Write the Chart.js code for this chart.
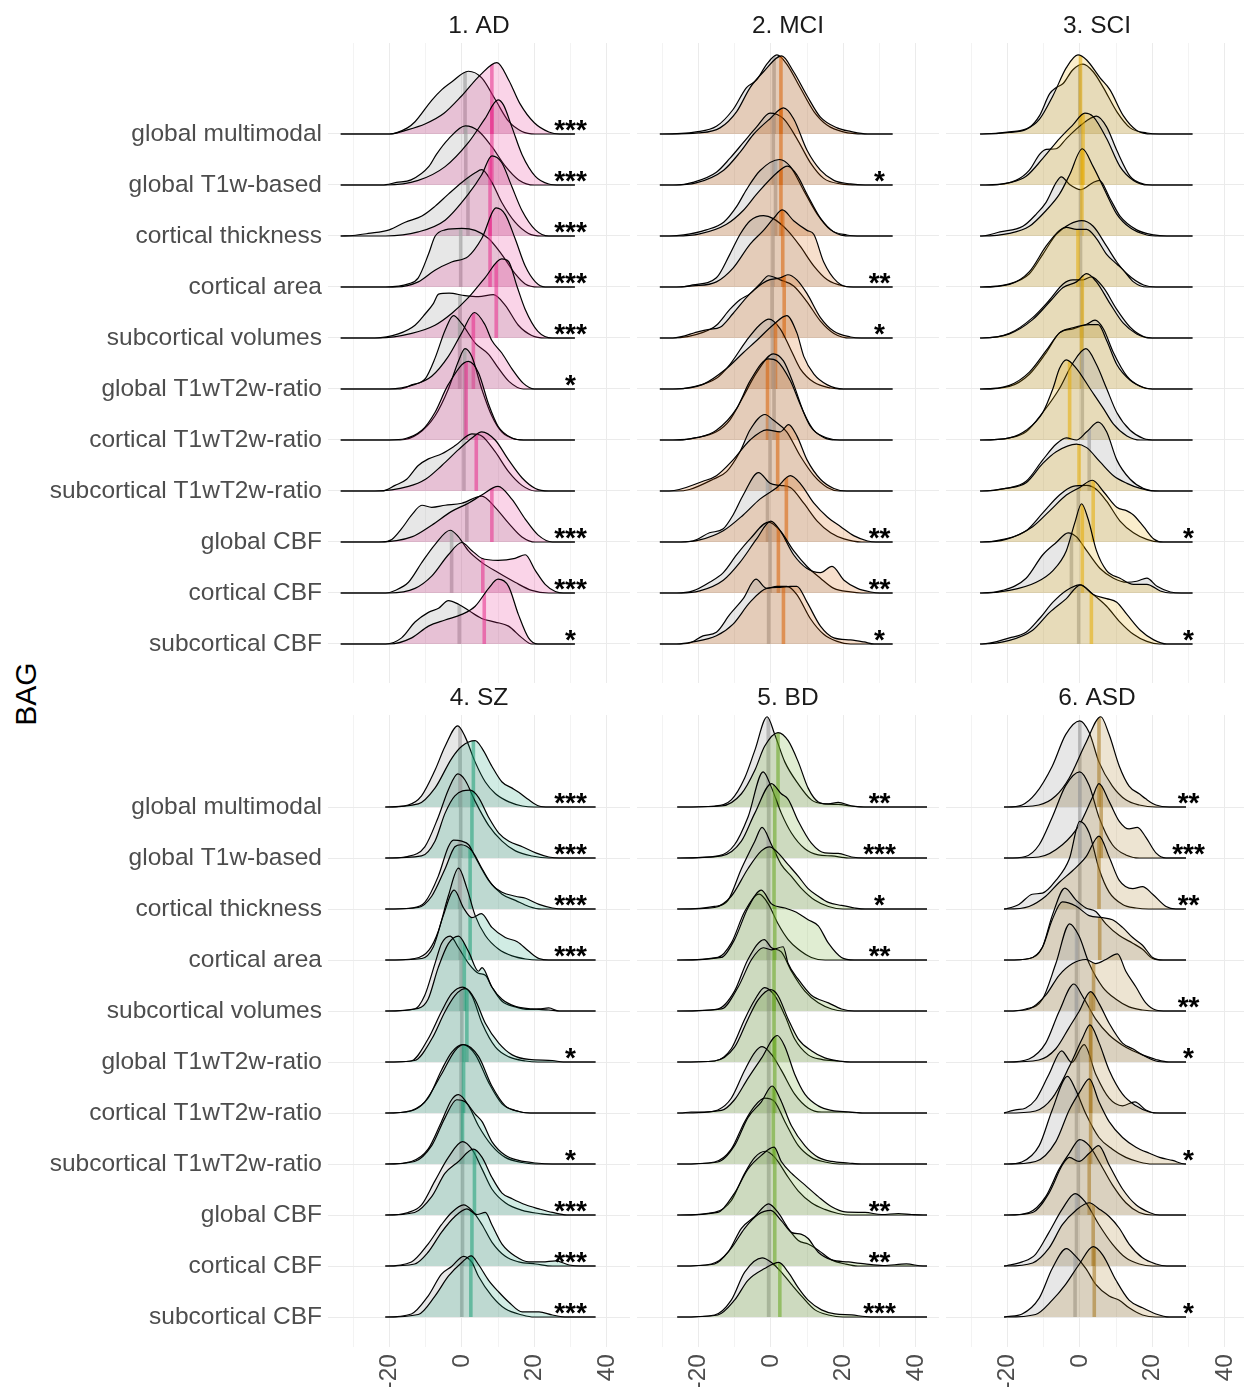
<!DOCTYPE html>
<html>
<head>
<meta charset="utf-8">
<title>BAG ridgelines</title>
<script src="https://cdn.jsdelivr.net/npm/chart.js@4.4.1/dist/chart.umd.min.js"></script>
<style>
html, body { margin: 0; padding: 0; background: #fff; }
body { width: 1244px; height: 1387px; overflow: hidden; position: relative; font-family: "Liberation Sans", Arial, sans-serif; }
canvas { position: absolute; }
#ylab { position: absolute; left: 26px; top: 694px; transform: translate(-50%, -50%) rotate(-90deg); font-size: 30px; color: #000; white-space: nowrap; }
</style>
</head>
<body>
<div id="ylab">BAG</div>
<canvas id="p0"></canvas>
<canvas id="p1"></canvas>
<canvas id="p2"></canvas>
<canvas id="p3"></canvas>
<canvas id="p4"></canvas>
<canvas id="p5"></canvas>
<script>
// ---------- labels / ticks ----------
const rowLabels = ['global multimodal', 'global T1w-based', 'cortical thickness', 'cortical area',
  'subcortical volumes', 'global T1wT2w-ratio', 'cortical T1wT2w-ratio', 'subcortical T1wT2w-ratio',
  'global CBF', 'cortical CBF', 'subcortical CBF'];
const panelTitles = ['1. AD', '2. MCI', '3. SCI', '4. SZ', '5. BD', '6. ASD'];
const panelColors = ['#E7298A', '#D95F02', '#E6AB02', '#1B9E77', '#66A61E', '#A6761D'];
const xTicks = [-30, -20, -10, 0, 10, 20, 30, 40];
const xLabelTicks = [-20, 0, 20, 40];
const starX = 30;

// ---------- density outlines: [x, height, x, height, ...] per row (top row first) ----------
// ----- 1. AD -----
const adRange = [-33.4, 31.2];
const adControl = [
  [-20,0, -15,0.12, -12.9,0.24, -8.3,0.66, -5.5,0.87, -2.8,1.02, 1.8,1.23, 5.5,1.1, 9.2,0.68, 12.9,0.25, 16.6,0.05, 20.3,0],
  [-22,0, -18,0.05, -14,0.1, -9,0.37, -7,0.6, -3.7,0.9, 1,1.16, 4.6,1.06, 8.3,0.75, 12,0.37, 15.7,0.1, 20,0],
  [-30,0.01, -25.8,0.05, -20,0.12, -15.6,0.27, -11,0.39, -7.4,0.58, -3.7,0.82, 0,1.05, 3.7,1.24, 5.5,1.3, 8.3,1.05, 11,0.66, 14.7,0.27, 18.4,0.05, 22,0],
  [-21,0, -14.7,0.06, -12,0.18, -9.2,0.64, -7.4,0.99, -4.6,1.12, 0,1.15, 3.7,1.11, 7.4,0.95, 11,0.64, 14.7,0.26, 17.5,0.06, 21,0],
  [-24,0, -17.5,0.08, -12.9,0.25, -10,0.48, -7.8,0.68, -6.4,0.86, -3.5,0.88, 0.9,0.83, 4.6,0.81, 8.7,0.85, 12,0.64, 15.6,0.25, 19.3,0.05, 23,0],
  [-17,0, -13.8,0.08, -10,0.21, -7.4,0.6, -4.6,1.15, -2.3,1.44, 0,1.28, 3.7,0.9, 7.4,0.68, 10,0.42, 13,0.15, 17,0],
  [-17,0, -12,0.12, -7.4,0.47, -3.7,1.0, -0.9,1.55, 0.9,1.79, 2.8,1.63, 5.5,1.0, 8.3,0.47, 11,0.16, 14.7,0.02, 18,0],
  [-22,0, -18.4,0.11, -15.2,0.23, -12,0.5, -9.2,0.63, -5.5,0.73, -1.8,0.89, 2.8,1.12, 5.5,1.08, 9.2,0.77, 12.9,0.38, 16.6,0.11, 20.3,0],
  [-22,0, -19.3,0.05, -16.6,0.26, -13.8,0.53, -11,0.72, -8.3,0.68, -4.6,0.72, 0,0.76, 5.5,0.9, 9.2,0.68, 12.9,0.37, 16.6,0.1, 20.3,0],
  [-21,0, -18.4,0.05, -14.7,0.21, -11,0.6, -7.4,0.95, -3.2,1.23, -0.9,1.1, 1.8,0.83, 5.5,0.6, 10,0.4, 14.7,0.21, 19.3,0.05, 24,0],
  [-21,0, -16.6,0.12, -12.9,0.43, -9.2,0.62, -6.4,0.7, -3.7,0.85, -0.9,0.78, 1.8,0.66, 5.5,0.5, 9.2,0.43, 12.9,0.35, 16.6,0.12, 19.3,0]
];
const adPatient = [
  [-20,0, -15,0.08, -10,0.2, -5,0.4, 0,0.75, 5,1.15, 9.7,1.4, 13,1.05, 16,0.6, 20,0.22, 24,0.04, 27,0],
  [-21,0, -12,0.09, -4.6,0.36, 1.8,0.83, 6.4,1.3, 10,1.67, 11.5,1.57, 13.8,1.14, 16.6,0.6, 20.3,0.17, 24,0.02, 27,0],
  [-21,0, -12,0.08, -4.6,0.31, 1.8,0.82, 5.5,1.2, 8.3,1.57, 11,1.44, 13.8,0.97, 16.6,0.5, 20.3,0.12, 24,0],
  [-18,0, -12,0.1, -7.4,0.33, -2.8,0.49, 1.8,0.6, 5.5,0.95, 9.5,1.55, 12,1.42, 14.7,0.95, 17.5,0.41, 20.3,0.1, 23,0],
  [-23,0, -13.8,0.09, -7.4,0.25, -2.8,0.48, 1.8,0.79, 6.4,1.18, 11,1.55, 12.9,1.5, 15.2,1.02, 17.5,0.56, 21,0.13, 25,0],
  [-20,0, -12.9,0.09, -8.3,0.25, -3.7,0.64, 0,1.1, 3.5,1.5, 6.4,1.26, 8.3,0.95, 11,0.71, 13.8,0.4, 17,0.11, 20,0],
  [-20,0, -11,0.19, -7.4,0.54, -3.7,1.09, 1.8,1.54, 4.6,1.32, 7.4,0.7, 10,0.27, 13.8,0.04, 17,0],
  [-24,0, -14.7,0.09, -10,0.23, -5.5,0.5, -0.9,0.81, 2.8,1.04, 5.5,1.16, 9.2,1.0, 12.9,0.61, 16.6,0.26, 20.3,0.05, 24,0],
  [-23,0, -13.8,0.1, -8.3,0.33, -2.8,0.6, 1.8,0.76, 5.5,0.92, 10,1.09, 13.8,0.84, 17.5,0.45, 21,0.14, 25,0],
  [-20,0, -12.9,0.09, -8.3,0.33, -3.7,0.75, 0,0.99, 2.8,0.83, 5.5,0.68, 10,0.64, 14.7,0.68, 17.5,0.75, 20.3,0.44, 23,0.17, 25.8,0.03, 28,0],
  [-20,0, -13.8,0.12, -9.2,0.35, -4.6,0.47, 0,0.58, 3.7,0.74, 7.4,1.09, 10,1.27, 12.9,1.13, 15.6,0.58, 18.4,0.12, 21,0]
];
const adMedControl = [0.9, 1.1, 1.7, -0.3, -0.5, -0.6, 0.8, 0.6, 1.4, -2.8, -0.7];
const adMedPatient = [8.3, 8.3, 7.8, 7.8, 9.5, 3.2, 1.2, 4.0, 8.3, 5.8, 6.2];
const adStars = ['***', '***', '***', '***', '***', '*', '', '', '***', '***', '*'];

// ----- 2. MCI -----
const mciRange = [-30.6, 33.6];
const mciControl = [
  [-30,0, -20.6,0.04, -15,0.15, -10.4,0.48, -6.7,0.91, -3.9,1.06, -1.1,1.37, 1.7,1.55, 4.4,1.37, 8.1,0.91, 11.9,0.44, 15.6,0.17, 20,0.04, 25.7,0],
  [-26,0, -21.5,0.05, -15,0.25, -11.3,0.52, -7.6,0.83, -3.9,1.14, -0.2,1.41, 3.5,1.3, 7.2,0.91, 10.9,0.44, 14.6,0.13, 19.3,0.02, 24,0],
  [-28,0, -24,0.02, -17.8,0.12, -13,0.27, -9.4,0.58, -6.7,0.91, -3,1.28, 2.4,1.5, 5.4,1.36, 9.1,0.89, 12.8,0.43, 16.5,0.12, 21,0.02, 25,0],
  [-25,0, -21.5,0.04, -15,0.18, -11.3,0.64, -8.5,1.03, -5.7,1.3, -2,1.4, 0.7,1.34, 4.6,1.11, 8.1,0.8, 11.9,0.41, 15.6,0.14, 20,0.02, 24,0],
  [-27,0, -18.7,0.11, -15,0.25, -11.3,0.56, -8.5,0.75, -5.7,0.87, -3,1.06, -0.6,1.22, 2.6,1.14, 6.3,1.02, 10,0.71, 13.7,0.33, 17.4,0.09, 22,0],
  [-26,0, -22.2,0.03, -15,0.21, -11.3,0.48, -6.7,0.95, -3,1.26, -0.5,1.37, 2.6,1.18, 5.4,0.79, 8.1,0.4, 11.9,0.13, 16.5,0.02, 20,0],
  [-25,0, -21,0.04, -15,0.16, -11.3,0.39, -7.6,0.85, -3.9,1.32, 0.7,1.69, 3.5,1.55, 6.3,1.09, 9.1,0.54, 11.9,0.19, 15.6,0.04, 19,0],
  [-26,0, -22.4,0.03, -15.9,0.23, -12.2,0.38, -8.5,0.77, -5.7,1.2, -1.6,1.5, 0.7,1.39, 4.4,1.16, 8.1,0.69, 11.9,0.3, 15.6,0.07, 19,0],
  [-26,0, -21.5,0.02, -16.9,0.18, -13.1,0.26, -10.4,0.53, -7.6,0.92, -3.4,1.36, -0.2,1.15, 2.6,1.11, 5.4,1.07, 9.1,0.76, 12.8,0.41, 16.5,0.18, 20.2,0.06, 25,0],
  [-26,0, -21.5,0.04, -16.9,0.21, -13.1,0.4, -9.4,0.75, -5.7,1.06, -0.6,1.39, 2.6,1.22, 6.3,0.83, 10,0.52, 13.7,0.29, 17.4,0.09, 22,0.02, 25,0],
  [-26,0, -22.4,0.02, -18.7,0.16, -15,0.23, -11.3,0.58, -7.6,0.89, -4.1,1.27, -1.1,1.09, 1.7,1.13, 4.4,1.13, 7.2,0.97, 10.9,0.5, 14.6,0.19, 18.3,0.05, 22,0]
];
const mciPatient = [
  [-28,0, -20,0.02, -14,0.12, -9.4,0.44, -5.7,0.91, -2,1.22, 3,1.53, 6.3,1.22, 10,0.75, 13.7,0.33, 18.3,0.12, 22,0.05, 26.7,0],
  [-27,0, -20.6,0.04, -13,0.29, -8.5,0.64, -4.8,0.99, -0.2,1.3, 3.5,1.51, 6.3,1.3, 10,0.68, 13.7,0.29, 17.4,0.09, 22,0.02, 26,0],
  [-26,0, -19.6,0.04, -12.2,0.23, -7.6,0.5, -3.9,0.82, 1.7,1.24, 4.6,1.37, 7.2,1.2, 10,0.82, 13.7,0.35, 17.4,0.08, 22,0],
  [-26,0, -21.5,0.02, -15,0.1, -10.4,0.37, -5.7,0.84, -2,1.11, 0.7,1.34, 3.2,1.51, 6.3,1.3, 10,1.11, 11.9,1.03, 14.6,0.49, 18.3,0.1, 22,0],
  [-27,0, -19.6,0.13, -16.9,0.17, -14,0.21, -10.4,0.48, -5.7,0.87, -1.1,1.12, 2.6,1.18, 4.7,1.24, 7.2,1.14, 10,0.87, 13.7,0.4, 17.4,0.13, 22,0.02, 25,0],
  [-27,0, -18.7,0.09, -12.2,0.4, -7.6,0.71, -3.9,0.95, 0.7,1.26, 4.4,1.44, 7.2,1.1, 9.1,0.64, 11.9,0.29, 15.6,0.08, 20,0],
  [-27,0, -20,0.05, -15,0.19, -9.4,0.62, -5.7,1.16, -0.6,1.59, 1.7,1.55, 5.4,1.16, 8.1,0.7, 10.9,0.27, 14.6,0.05, 18,0],
  [-28,0, -18.7,0.19, -15,0.3, -10.4,0.61, -5.7,1.0, -1.1,1.2, 2.6,1.16, 4.9,1.3, 7.2,1.08, 10,0.61, 13.7,0.23, 17.4,0.05, 21,0],
  [-25,0, -19.6,0.04, -13.1,0.22, -7.6,0.53, -3,0.84, 1.7,1.07, 5.4,1.3, 8.1,1.15, 11.9,0.76, 15.6,0.49, 19.3,0.3, 23,0.12, 26.7,0.02, 29,0],
  [-25,0, -19.6,0.04, -13.1,0.25, -8.5,0.6, -3.9,1.06, 0,1.41, 2.6,1.22, 6.3,0.75, 10,0.48, 13.7,0.4, 16.9,0.52, 20.2,0.25, 23.9,0.09, 27.6,0.02, 30,0],
  [-26,0, -21.5,0.04, -15,0.16, -10.4,0.39, -5.7,0.82, -1.1,1.09, 2.6,1.11, 5.4,1.13, 7.2,1.13, 10,0.82, 13.7,0.35, 17.4,0.12, 22,0.08, 25.7,0.04, 28.5,0]
];
const mciMedControl = [0.9, 0.7, 1.3, 0.6, 0.4, 0.6, 0.9, -0.2, -0.9, -0.2, -0.6];
const mciMedPatient = [2.8, 2.8, 2.8, 3.3, 3.7, 1.3, -0.9, 1.9, 4.3, 2.1, 3.5];
const mciStars = ['', '*', '', '**', '*', '', '', '', '**', '**', '*'];

// ----- 3. SCI -----
const sciRange = [-27.5, 31.1];
const sciControl = [
  [-27,0, -19.4,0.04, -13.9,0.13, -11.1,0.36, -8.3,0.79, -6.5,0.91, -4.6,0.99, -1.9,1.26, 0.9,1.37, 3.7,1.22, 6.5,0.91, 10.2,0.44, 13.9,0.12, 18.5,0.02, 22,0],
  [-25,0, -17.6,0.09, -13.9,0.29, -11.1,0.6, -9.3,0.7, -6.5,0.71, -3.7,0.91, -0.9,1.1, 1.9,1.26, 4.6,1.35, 7.4,1.14, 10.2,0.68, 13.9,0.17, 17.6,0.02, 21,0],
  [-27,0, -22,0.08, -15.7,0.19, -12,0.43, -9.3,0.66, -6.5,1.05, -5.1,1.16, -2.8,1.01, 0.2,0.91, 3.7,1.05, 5.4,1.09, 8.3,0.74, 11.1,0.39, 15.7,0.12, 20.4,0.02, 24,0],
  [-27,0, -19.4,0.06, -13.9,0.26, -10.2,0.64, -6.5,1.03, -2.8,1.23, 0.5,1.3, 3.7,1.19, 7.4,0.8, 10.2,0.49, 13,0.26, 17.6,0.04, 21,0],
  [-27,0, -19.4,0.09, -13,0.4, -8.3,0.75, -4.6,1.06, -1.9,1.14, 0.9,1.14, 3.2,1.2, 6.5,0.99, 10.2,0.56, 13.9,0.21, 17.6,0.03, 21,0],
  [-27,0, -19.4,0.05, -13.9,0.29, -9.3,0.71, -5.6,1.1, -1.9,1.18, 1.9,1.27, 4.2,1.35, 6.5,1.18, 9.3,0.71, 13,0.25, 16.7,0.05, 20,0],
  [-27,0, -19.4,0.04, -14.8,0.16, -10.2,0.54, -5.6,1.01, -1.9,1.51, 1.7,1.79, 4.6,1.48, 7.4,1.01, 10.2,0.54, 13.9,0.19, 17.6,0.03, 21,0],
  [-27,0, -20.4,0.05, -14.8,0.19, -10.2,0.61, -6.5,0.92, -3.7,1.04, -0.9,1.0, 1.9,1.16, 5.1,1.35, 7.4,1.16, 10.2,0.61, 13.9,0.23, 17.6,0.05, 22,0],
  [-27,0, -20.4,0.06, -14.8,0.22, -10.2,0.57, -5.6,0.92, -1.9,1.09, 1.9,1.11, 4.6,1.03, 7.4,0.8, 11.1,0.41, 14.8,0.18, 18.5,0.05, 22,0],
  [-27,0, -21.3,0.05, -14.8,0.29, -10.2,0.75, -6.5,0.99, -3.2,1.18, -0.9,1.1, 1.9,0.83, 5.6,0.48, 9.3,0.29, 13,0.21, 15.7,0.23, 18.5,0.29, 21.3,0.13, 25,0.02, 28,0],
  [-27,0, -19.4,0.12, -14.8,0.23, -11.1,0.5, -7.4,0.82, -3.7,1.05, 0,1.16, 3.7,0.97, 7.4,0.74, 11.1,0.43, 14.8,0.19, 18.5,0.05, 22,0]
];
const sciPatient = [
  [-27,0, -19.4,0.03, -14.8,0.09, -11.1,0.29, -7.4,0.75, -3.7,1.3, -0.5,1.55, 1.9,1.45, 5.6,1.1, 8.3,0.87, 12,0.36, 15.7,0.07, 20,0],
  [-26,0, -19,0.05, -14.8,0.17, -10.2,0.52, -5.6,0.91, -1.9,1.18, 1.4,1.41, 3.7,1.34, 7.4,0.91, 11.1,0.36, 14.8,0.09, 19,0],
  [-27,0, -19.4,0.05, -13.9,0.19, -9.3,0.5, -5.6,0.82, -2.8,1.2, 0.7,1.71, 3.7,1.36, 7.4,0.82, 10.2,0.43, 13.9,0.16, 18.5,0.02, 22,0],
  [-27,0, -19.4,0.05, -13.9,0.3, -9.3,0.8, -5.6,1.11, -3.7,1.17, -0.9,1.13, 1.9,1.13, 4.6,0.95, 7.4,0.64, 10.2,0.45, 12,0.33, 14.8,0.1, 18.5,0],
  [-27,0, -19.4,0.08, -13,0.36, -8.3,0.71, -4.6,0.99, -0.9,1.1, 1.9,1.26, 4.6,1.1, 8.3,0.68, 12,0.29, 15.7,0.08, 19.5,0],
  [-27,0, -19.4,0.07, -13.9,0.33, -9.3,0.75, -5.6,1.1, -1.9,1.2, 2.8,1.26, 5.1,1.26, 7.4,0.95, 10.2,0.48, 13.9,0.17, 17.6,0.03, 21,0],
  [-27,0, -19.4,0.04, -14.8,0.19, -10.2,0.54, -7.4,1.01, -5.6,1.4, -3.7,1.57, -0.9,1.4, 2.8,1.01, 6.5,0.62, 9.3,0.31, 13,0.08, 16.7,0],
  [-27,0, -20.4,0.05, -14.8,0.16, -10.2,0.54, -6.5,0.77, -0.9,0.92, 1.9,0.85, 5.6,0.57, 9.3,0.3, 13,0.15, 16.7,0.05, 20.4,0],
  [-27,0, -20.4,0.05, -13,0.3, -8.3,0.61, -3.7,0.92, 0,1.07, 3.5,1.21, 6.5,0.99, 10.2,0.68, 13,0.61, 14.8,0.53, 17.6,0.3, 20.4,0.06, 23,0],
  [-27,0, -19.4,0.05, -12,0.21, -7.4,0.44, -3.7,0.83, -1.4,1.37, 0.5,1.75, 2.3,1.45, 4.6,0.83, 7.4,0.44, 11.1,0.29, 14.8,0.17, 18.5,0.17, 22.2,0.04, 25,0],
  [-27,0, -19.4,0.07, -13,0.27, -8.3,0.62, -3.7,0.89, 0.2,1.16, 3.7,0.97, 7.4,0.89, 10.2,0.82, 13,0.58, 16.7,0.27, 20.4,0.08, 24,0]
];
const sciMedControl = [0, 0.2, 0.2, 0.2, 0.5, 0.6, 0.7, 2.6, -0.4, -2.3, -0.3];
const sciMedPatient = [0.2, 0.9, 0.6, -0.5, 0.7, 0.5, -2.8, -0.2, 3.7, 0.7, 3.2];
const sciStars = ['', '', '', '', '', '', '', '', '*', '', '*'];

// ----- 4. SZ -----
const szRange = [-21.1, 36.9];
const szControl = [
  [-21,0, -14.8,0.04, -11.1,0.22, -7.4,0.72, -4.6,1.19, -1.1,1.59, 0.9,1.38, 3.7,0.88, 6.5,0.49, 9.3,0.26, 13,0.1, 16.7,0.02, 20,0],
  [-21,0, -15,0.03, -10.2,0.22, -6.5,0.8, -3.7,1.34, -1.1,1.65, 0.9,1.53, 3.7,1.11, 7.4,0.64, 11.1,0.33, 14.8,0.14, 19.4,0.04, 24,0],
  [-21,0, -14,0.02, -10.2,0.13, -6.5,0.64, -3.7,1.22, -2.3,1.35, 0,1.33, 1.9,1.26, 3.7,1.02, 7.4,0.56, 11.1,0.29, 14.8,0.17, 18.5,0.05, 22,0],
  [-21,0, -13,0.03, -9,0.2, -6.5,0.56, -3.7,1.26, -0.9,1.8, 1.4,1.41, 3.7,0.87, 6.5,0.48, 10.2,0.21, 13.9,0.08, 17.6,0.02, 21,0],
  [-21,0, -13,0.04, -10.2,0.31, -7.4,0.93, -5.6,1.32, -3.2,1.47, -0.9,1.24, 1.9,0.93, 4.6,0.74, 6.5,0.7, 8.3,0.47, 11.1,0.19, 14.8,0.08, 18.5,0.03, 21.3,0.04, 24,0.06, 26.8,0],
  [-21,0, -14,0.02, -9.3,0.45, -5.6,0.99, -2.8,1.34, 0.2,1.47, 2.8,1.3, 5.6,0.76, 9.3,0.29, 13,0.1, 17.6,0.02, 21,0],
  [-21,0, -13.9,0.05, -9.3,0.29, -5.6,0.84, -2.8,1.19, 0.2,1.34, 3.7,1.15, 7.4,0.6, 11.1,0.18, 14.8,0.05, 19,0],
  [-21,0, -13.9,0.05, -9.3,0.29, -5.6,0.83, -2.8,1.26, -0.9,1.36, 1.9,1.14, 4.6,0.75, 8.3,0.36, 12,0.13, 16.7,0.03, 22,0],
  [-21,0, -14.8,0.05, -11.1,0.2, -7.4,0.67, -3.7,1.13, 0.2,1.44, 2.8,1.29, 5.6,0.9, 8.3,0.51, 12,0.24, 16.7,0.09, 21.3,0.03, 25,0],
  [-21,0, -13.9,0.08, -9.3,0.43, -5.6,0.81, -2.8,1.05, 0.5,1.2, 2.8,1.09, 5.6,0.81, 8.3,0.47, 12,0.19, 15.7,0.08, 20.4,0.04, 25,0],
  [-21,0, -13.9,0.06, -9.3,0.41, -5.6,0.84, -2.8,0.99, 0.5,1.19, 2.8,1.07, 4.6,0.8, 8.3,0.41, 12,0.16, 16.7,0.04, 20,0]
];
const szPatient = [
  [-21,0, -12,0.06, -7.4,0.37, -2.8,0.95, 0,1.19, 3.7,1.3, 5.6,1.15, 8.3,0.8, 11.1,0.49, 13.9,0.37, 15.7,0.29, 18.5,0.14, 21.3,0.02, 24,0],
  [-21,0, -11.1,0.04, -7.4,0.33, -4.6,0.88, -1.9,1.22, 2.3,1.33, 4.6,1.19, 7.4,0.8, 10.2,0.49, 13,0.33, 16.7,0.22, 20.4,0.1, 24,0.02, 27,0],
  [-21,0, -12,0.03, -8.3,0.25, -4.6,0.79, -1.9,1.22, -0.2,1.26, 2.8,1.14, 5.6,0.79, 8.3,0.48, 11.1,0.33, 14.8,0.25, 17.6,0.21, 21.3,0.09, 25,0.02, 28,0],
  [-21,0, -11,0.03, -7.9,0.25, -5.1,0.87, -2.1,1.37, 0.5,1.02, 2.8,0.83, 5.4,0.91, 8.3,0.64, 12,0.44, 15.3,0.36, 18.5,0.17, 21.3,0.03, 24,0],
  [-21,0, -12,0.05, -9.3,0.23, -6.5,0.85, -3.7,1.32, -0.9,1.47, 1.9,1.16, 4.6,0.78, 5.6,0.85, 8.3,0.47, 11.1,0.23, 14.8,0.09, 19.4,0.04, 24,0.02, 27,0],
  [-21,0, -13,0.03, -8.3,0.45, -4.6,0.99, -1.9,1.3, 0,1.42, 1.1,1.44, 3.7,1.22, 6.5,0.76, 10.2,0.37, 13.9,0.14, 18.5,0.05, 25,0.03, 28,0],
  [-21,0, -14,0.04, -10.2,0.22, -5.6,0.76, -1.9,1.22, 0.5,1.34, 4.6,1.11, 8.3,0.53, 12,0.14, 15.7,0.03, 20,0],
  [-21,0, -13,0.05, -8.3,0.36, -4.6,0.91, -1.4,1.26, 0.9,1.22, 3.7,0.98, 5.6,0.83, 8.3,0.44, 12,0.17, 15.7,0.07, 20.4,0.02, 25,0],
  [-21,0, -13,0.05, -8.3,0.36, -4.6,0.82, -0.9,1.05, 3.2,1.29, 5.6,1.13, 8.3,0.74, 11.1,0.43, 13.9,0.32, 17.6,0.2, 21.3,0.12, 25,0.05, 29,0],
  [-21,0, -13,0.04, -9.3,0.27, -5.6,0.66, -1.9,0.97, 1.4,1.12, 4.2,1.01, 6.5,1.05, 8.3,0.81, 11.1,0.43, 14.8,0.19, 18.5,0.08, 22.2,0.08, 25.9,0.1, 29.6,0.02, 33,0],
  [-21,0, -12,0.05, -7.4,0.41, -3.7,0.8, 0,1.07, 2.6,1.2, 4.6,1.03, 7.4,0.72, 10.2,0.49, 13,0.29, 16.7,0.1, 21.3,0.1, 25,0.04, 29,0]
];
const szMedControl = [-0.5, -0.3, -0.6, -0.4, -0.2, 0, -0.2, -0.2, 0.2, 0.2, 0];
const szMedPatient = [3.2, 2.8, 2.3, 2.3, 0.7, 1.4, 0.5, 0.2, 3.5, 2.8, 2.5];
const szStars = ['***', '***', '***', '***', '', '*', '', '*', '***', '***', '***'];

// ----- 5. BD -----
const bdRange = [-25.8, 43.1];
const bdControl = [
  [-25,0, -15.5,0.02, -10.9,0.14, -7.2,0.57, -4.4,1.11, -1,1.77, 1.1,1.42, 3.9,0.88, 7.6,0.45, 11.2,0.14, 14.9,0.06, 18.6,0.05, 22.3,0.02, 26,0],
  [-25,0, -14.5,0.04, -10,0.26, -6.3,0.8, -2.1,1.69, 0.2,1.38, 2.9,0.88, 5.7,0.49, 9.4,0.18, 13.1,0.06, 16.8,0.04, 21.4,0],
  [-25,0, -15.5,0.05, -11.8,0.17, -8.1,0.79, -4.4,1.33, -2.4,1.6, 0.2,1.26, 2.9,0.87, 5.7,0.64, 8.5,0.4, 12.2,0.17, 15.9,0.05, 20,0],
  [-25,0, -14.6,0.05, -10.9,0.33, -7.2,0.95, -3.2,1.29, -0.7,1.1, 2,0.71, 4.8,0.4, 7.6,0.21, 11.2,0.05, 15,0],
  [-25,0, -14.6,0.04, -10,0.39, -6.3,1.01, -1.8,1.4, 0.2,1.24, 2.9,1.16, 5.7,0.78, 9.4,0.39, 13.1,0.16, 16.8,0.04, 20,0],
  [-25,0, -15.5,0.02, -10.9,0.26, -7.2,0.84, -4.4,1.22, -1.7,1.46, 1.1,1.3, 3.9,0.91, 6.6,0.45, 10.3,0.14, 14,0.05, 18.6,0.02, 22,0],
  [-25,0, -22,0.02, -18.3,0.02, -14.6,0.06, -10.9,0.29, -7.2,0.84, -4.4,1.19, -2.4,1.3, 0.2,1.15, 2.9,0.84, 6.6,0.37, 10.3,0.1, 14,0.02, 21.4,0.02, 26,0],
  [-25,0, -15.5,0.04, -10.9,0.29, -7.2,0.83, -4.4,1.14, -1.7,1.29, 1.1,1.22, 3.9,0.83, 7.6,0.36, 11.2,0.13, 14.9,0.04, 19,0],
  [-25,0, -15.5,0.05, -10.9,0.28, -7.2,0.82, -4.4,1.13, -1.5,1.25, 1.1,1.13, 4.8,0.74, 7.6,0.47, 11.2,0.24, 14.9,0.11, 18.6,0.03, 22,0],
  [-25,0, -16.4,0.04, -11.8,0.27, -8.1,0.74, -4.4,0.97, -0.6,1.22, 2,1.05, 4.8,0.74, 7.6,0.5, 10.3,0.43, 13.1,0.31, 16.8,0.12, 20.5,0.04, 24,0],
  [-25,0, -15.5,0.04, -10.9,0.33, -7.2,0.88, -2.4,1.16, 0.2,1.07, 2.9,0.88, 5.7,0.64, 8.5,0.41, 12.2,0.14, 15.9,0.04, 20,0]
];
const bdPatient = [
  [-25,0, -13.6,0.02, -8.1,0.26, -4.4,0.72, -1.7,1.19, 2,1.46, 4.8,1.3, 7.6,0.88, 10.3,0.37, 13.1,0.1, 15.9,0.06, 18.6,0.09, 22.3,0.02, 26,0],
  [-25,0, -13.6,0.04, -8.1,0.33, -4.4,0.88, 0.2,1.46, 2.9,1.26, 4.8,1.15, 7.6,0.72, 11.2,0.29, 14.9,0.1, 18.6,0.09, 22.3,0.02, 26,0],
  [-25,0, -15.5,0.03, -10.9,0.25, -6.3,0.79, -2.6,1.14, -0.3,1.22, 2,1.1, 4.8,0.87, 7.6,0.64, 10.3,0.4, 13.1,0.25, 15.9,0.13, 19.5,0.07, 23.2,0.02, 26,0],
  [-25,0, -13.6,0.05, -10,0.4, -6.3,1.02, -2.6,1.37, 0.2,1.1, 3.9,1.02, 6.6,0.95, 10.3,0.79, 13.1,0.67, 15.9,0.33, 19.5,0.05, 23,0],
  [-25,0, -13.6,0.04, -9,0.47, -5.3,1.01, -2.1,1.24, 0.2,1.2, 3.4,1.26, 4.8,0.93, 7.6,0.62, 11.2,0.31, 15.9,0.16, 19.5,0.04, 23,0],
  [-25,0, -15.5,0.02, -10,0.29, -6.3,0.84, -3.5,1.22, 0,1.42, 2,1.3, 4.8,0.84, 7.6,0.45, 11.2,0.22, 14.9,0.08, 18.6,0.02, 22,0],
  [-25,0, -13.6,0.05, -10,0.26, -6.3,0.68, -2.6,1.07, 1.8,1.52, 3.9,1.3, 6.6,0.76, 9.4,0.37, 13.1,0.14, 16.8,0.05, 21.4,0.02, 26,0],
  [-25,0, -14.6,0.04, -10,0.36, -6.3,0.91, -2.6,1.22, 0.4,1.53, 2.5,1.29, 5.7,0.75, 9.4,0.36, 13.1,0.13, 16.8,0.05, 21.4,0.02, 25,0],
  [-25,0, -14.6,0.05, -10,0.43, -6.3,0.9, -2.6,1.17, 0.9,1.33, 2.9,1.05, 5.7,0.82, 9.4,0.59, 13.1,0.36, 16.8,0.16, 20.5,0.06, 26,0.05, 30.6,0.01, 35.2,0.03, 38.9,0.01, 42,0],
  [-25,0, -15.5,0.04, -10.9,0.35, -7.2,0.74, -3.5,1.01, 0,1.09, 2.9,0.89, 5.7,0.66, 8.5,0.62, 10.3,0.54, 13.1,0.27, 16.8,0.12, 21.4,0.08, 26,0.04, 31,0.01, 37.4,0.04, 42,0],
  [-25,0, -14.6,0.04, -10,0.33, -6.3,0.72, -1.7,0.95, 2.2,1.07, 4.8,0.88, 7.6,0.57, 10.3,0.33, 14,0.14, 17.7,0.06, 22.3,0.04, 26,0.01, 29,0]
];
const bdMedControl = [-0.7, -0.6, -0.7, -0.7, -0.6, -0.6, -0.6, -0.6, -0.6, -0.4, -0.6];
const bdMedPatient = [2.0, 1.1, 0.9, 1.1, 0.9, 0.9, 1.1, 0.7, 1.1, 1.1, 2.5];
const bdStars = ['**', '***', '*', '**', '', '', '', '', '**', '**', '***'];

// ----- 6. ASD -----
const asdRange = [-20.9, 29.3];
const asdControl = [
  [-20,0, -15.9,0.04, -12.2,0.26, -7.6,0.8, -3.9,1.42, 0,1.69, 2.6,1.46, 5.3,0.88, 9,0.41, 12.7,0.14, 16.4,0.04, 21,0],
  [-20,0, -15,0.03, -11.2,0.26, -7.6,0.8, -3.9,1.42, 0,1.69, 2.6,1.42, 5.3,0.8, 9,0.26, 12.7,0.06, 16.5,0],
  [-20,0.01, -16.8,0.09, -13.1,0.29, -10.3,0.31, -6.6,0.56, -2.9,0.98, 0,1.72, 2.6,1.49, 5.3,0.79, 8.1,0.33, 11.8,0.09, 15.5,0.02, 19,0],
  [-20,0, -13.9,0.03, -10.3,0.25, -7.6,0.87, -4.1,1.41, -1.1,1.18, 1.7,1.02, 4.4,0.95, 7.2,0.71, 10.9,0.48, 14.6,0.33, 17.3,0.21, 20.1,0.03, 23,0],
  [-20,0, -14.9,0.04, -10.3,0.23, -6.6,0.93, -2.8,1.71, -0.2,1.47, 2.6,0.93, 6.3,0.47, 10,0.23, 13.6,0.08, 17.3,0.02, 21,0],
  [-20,0, -14,0.06, -9.4,0.37, -5.7,0.99, -1.6,1.53, 0.7,1.3, 4.4,0.84, 8.1,0.53, 11.8,0.33, 14.6,0.22, 17.3,0.14, 21,0.05, 24.6,0],
  [-20,0.02, -17.7,0.06, -14.9,0.1, -12.2,0.26, -8.5,0.76, -5,1.22, -2.2,0.99, 1.2,1.34, 4.4,0.76, 8.1,0.29, 11.8,0.14, 15.2,0.22, 18.2,0.06, 21,0],
  [-20,0, -16,0.04, -11.2,0.36, -7.6,1.06, -3.4,1.72, -1.1,1.45, 1.7,0.98, 5.3,0.52, 9,0.29, 12.7,0.13, 16.4,0.04, 20,0],
  [-20,0, -14,0.05, -9.4,0.36, -5.7,0.9, -2.9,1.21, 0,1.48, 2.6,1.36, 5.3,1.05, 9,0.59, 12.7,0.24, 16.4,0.05, 20,0],
  [-20,0.01, -15.9,0.08, -12.2,0.23, -8.5,0.66, -4.8,1.12, -1.3,1.42, 1.7,1.24, 5.3,0.81, 9,0.43, 12.7,0.16, 16.4,0.04, 20,0],
  [-20,0.01, -15.9,0.06, -11.2,0.37, -7.6,0.95, -3.7,1.34, -1.1,1.19, 1.7,0.95, 4.4,0.64, 8.1,0.41, 10.9,0.33, 13.6,0.18, 17.3,0.04, 21,0]
];
const asdPatient = [
  [-20,0, -11.3,0.04, -6.6,0.22, -2.9,0.57, 1.7,1.26, 5.8,1.77, 8.1,1.42, 10.9,0.8, 13.6,0.41, 16.4,0.26, 18.2,0.16, 21,0.04, 24.7,0],
  [-20,0, -11.3,0.02, -4.8,0.26, -0.2,0.64, 3.5,1.19, 5.3,1.46, 8.1,1.11, 10.9,0.72, 13.6,0.57, 15.9,0.6, 18.2,0.41, 21,0.1, 23.8,0],
  [-20,0, -14,0.05, -9.4,0.25, -5.7,0.52, -2,0.75, 1.7,1.02, 5.3,1.43, 8.1,1.02, 10.9,0.56, 14.6,0.4, 17.3,0.44, 20.1,0.29, 23.8,0.05, 26.5,0],
  [-20,0, -13.9,0.03, -10.3,0.25, -7.6,0.79, -4.8,1.14, -1.1,1.06, 2.6,0.87, 6.3,0.83, 9,0.79, 11.8,0.64, 14.6,0.44, 17.3,0.29, 20.1,0.05, 23,0],
  [-20,0, -14,0.04, -9.4,0.31, -5.7,0.7, -2,0.93, 1.7,1.01, 4.4,0.93, 7.2,1.01, 10.4,1.12, 12.7,0.78, 15.5,0.47, 18.2,0.16, 21,0.02, 24,0],
  [-20,0, -11.3,0.04, -6.6,0.26, -2.9,0.68, -0.2,0.99, 3,1.38, 5.3,1.15, 8.1,0.76, 11.8,0.37, 14.6,0.26, 17.3,0.14, 21,0.02, 24,0],
  [-20,0, -12.2,0.04, -7.6,0.29, -2.9,0.91, 0.7,1.46, 2.8,1.73, 5.3,1.38, 8.1,0.84, 11.8,0.37, 15.5,0.14, 19.2,0.02, 22,0],
  [-20,0, -12.2,0.05, -6.6,0.44, -2.9,1.06, 0.3,1.45, 2.6,1.67, 5.3,1.22, 8.1,0.83, 11.8,0.52, 15.5,0.33, 19.2,0.21, 22,0.13, 25.6,0.07, 29,0],
  [-20,0, -13,0.05, -8.5,0.43, -4.8,0.98, -2.9,1.13, -0.2,1.05, 2.6,1.21, 5.2,1.36, 8.1,0.98, 11.8,0.51, 15.5,0.2, 19.2,0.05, 22,0],
  [-20,0, -13,0.06, -8.5,0.35, -4.8,0.81, -1.1,1.09, 2.6,1.24, 5.3,1.12, 8.1,0.97, 10.9,0.74, 13.6,0.43, 17.3,0.16, 21,0.04, 24,0],
  [-20,0, -12.2,0.05, -7.6,0.33, -3.9,0.64, -0.2,1.03, 3.7,1.38, 6.3,1.22, 10,0.72, 13.6,0.33, 17.3,0.18, 21,0.06, 24.7,0]
];
const asdMedControl = [0, 0, 0, -0.6, -0.9, -0.9, -0.4, -0.9, -0.4, -0.9, -1.3];
const asdMedPatient = [5.3, 5.9, 5.3, 5.5, 3.8, 3.0, 3.0, 3.0, 2.6, 3.7, 4.0];
const asdStars = ['**', '***', '**', '', '**', '*', '', '*', '', '', '*'];

// ---------- assemble panels ----------
const panels = [
  {ctl: adControl, pat: adPatient, medC: adMedControl, medP: adMedPatient, stars: adStars, range: adRange},
  {ctl: mciControl, pat: mciPatient, medC: mciMedControl, medP: mciMedPatient, stars: mciStars, range: mciRange},
  {ctl: sciControl, pat: sciPatient, medC: sciMedControl, medP: sciMedPatient, stars: sciStars, range: sciRange},
  {ctl: szControl, pat: szPatient, medC: szMedControl, medP: szMedPatient, stars: szStars, range: szRange},
  {ctl: bdControl, pat: bdPatient, medC: bdMedControl, medP: bdMedPatient, stars: bdStars, range: bdRange},
  {ctl: asdControl, pat: asdPatient, medC: asdMedControl, medP: asdMedPatient, stars: asdStars, range: asdRange}
];

// ---------- layout ----------
const FONT = '"Liberation Sans", Arial, sans-serif';
Chart.defaults.font.family = FONT;
const X_MIN = -36.9, X_MAX = 46.4;
const PLOT_W = 302;
const YAXIS_W = 328;
const XAXIS_H = 53;
const canvasLeft = [0, 637, 946];
const rowTop = [0, 672];
const rowHeight = [683, 728];
const yLimits = [[0.235, 12.784], [0.412, 12.804]];
const rowValues = [1, 2, 3, 4, 5, 6, 7, 8, 9, 10, 11];

function hexA(hex, a) {
  const n = parseInt(hex.slice(1), 16);
  return `rgba(${(n >> 16) & 255},${(n >> 8) & 255},${n & 255},${a})`;
}

function toPoints(flat, range, base) {
  const pts = [{x: range[0], y: base}];
  for (let i = 0; i < flat.length; i += 2) {
    const x = flat[i];
    if (x > range[0] && x < range[1]) pts.push({x: x, y: base + flat[i + 1]});
  }
  pts.push({x: range[1], y: base});
  return pts;
}

// median line (clipped under its own curve) + stars
const ridgeDeco = {
  id: 'ridgeDeco',
  beforeDatasetDraw(chart, args) {
    const ds = chart.data.datasets[args.index];
    if (ds.median == null) return;
    const line = args.meta.dataset;
    const pts = args.meta.data;
    if (!line || !pts.length || typeof line.path !== 'function') return;
    const ctx = chart.ctx;
    const basePx = chart.scales.y.getPixelForValue(ds.base);
    const mx = chart.scales.x.getPixelForValue(ds.median);
    ctx.save();
    ctx.beginPath();
    line.path(ctx);
    ctx.lineTo(pts[pts.length - 1].x, basePx);
    ctx.lineTo(pts[0].x, basePx);
    ctx.closePath();
    ctx.clip();
    ctx.beginPath();
    ctx.moveTo(mx, basePx);
    ctx.lineTo(mx, chart.chartArea.top);
    ctx.strokeStyle = ds.medianColor;
    ctx.lineWidth = 3.6;
    ctx.stroke();
    ctx.restore();
  },
  afterDatasetsDraw(chart) {
    const stars = chart.options.plugins.ridgeDeco.stars;
    const ctx = chart.ctx;
    ctx.save();
    ctx.font = 'bold 28px ' + FONT;
    ctx.fillStyle = '#000';
    ctx.textAlign = 'center';
    ctx.textBaseline = 'alphabetic';
    const sx = chart.scales.x.getPixelForValue(starX);
    stars.forEach((s, r) => {
      if (!s) return;
      const y = chart.scales.y.getPixelForValue(11 - r);
      ctx.fillText(s, sx, y + 5);
    });
    ctx.restore();
  }
};

panels.forEach((p, k) => {
  const col = k % 3, row = Math.floor(k / 3);
  const color = panelColors[k];
  const left = col === 0;
  const bottom = row === 1;
  const w = (left ? YAXIS_W : 0) + PLOT_W;
  const h = rowHeight[row];

  const cv = document.getElementById('p' + k);
  cv.width = w; cv.height = h;
  cv.style.left = canvasLeft[col] + 'px';
  cv.style.top = rowTop[row] + 'px';

  const datasets = [];
  let seq = 0;
  for (let r = 0; r < 11; r++) {
    const base = 11 - r;
    [[p.ctl[r], 'rgba(150,150,150,0.23)', 'rgba(165,165,165,0.7)', p.medC[r]],
     [p.pat[r], hexA(color, 0.2), hexA(color, 0.55), p.medP[r]]].forEach(g => {
      datasets.push({
        data: toPoints(g[0], p.range, base),
        borderColor: '#000',
        borderWidth: 1.2,
        backgroundColor: g[1],
        fill: {value: base},
        pointRadius: 0,
        cubicInterpolationMode: 'monotone',
        order: 1000 - seq,
        base: base,
        median: g[3],
        medianColor: g[2]
      });
      seq++;
    });
  }

  new Chart(cv, {
    type: 'line',
    data: {datasets},
    options: {
      responsive: false,
      animation: false,
      devicePixelRatio: 1,
      events: [],
      layout: {padding: 0},
      plugins: {
        legend: {display: false},
        tooltip: {enabled: false},
        title: {
          display: true,
          fullSize: false,
          text: panelTitles[k],
          color: '#1A1A1A',
          font: {size: 24.5, weight: 'normal', family: FONT},
          padding: {top: 11.8, bottom: 1.8}
        },
        ridgeDeco: {stars: p.stars}
      },
      scales: {
        x: {
          type: 'linear',
          min: X_MIN, max: X_MAX,
          afterBuildTicks: s => { s.ticks = xTicks.map(v => ({value: v})); },
          afterFit: s => { s.height = bottom ? XAXIS_H : 0; s.paddingLeft = 0; s.paddingRight = 0; },
          border: {display: false},
          grid: {
            drawTicks: false,
            lineWidth: 1,
            color: c => (c.tick && xLabelTicks.includes(c.tick.value)) ? '#EBEBEB' : '#F3F3F3'
          },
          ticks: {
            display: bottom,
            autoSkip: false,
            minRotation: 90, maxRotation: 90,
            padding: 7,
            color: '#4D4D4D',
            font: {size: 24.5, family: FONT},
            callback: v => xLabelTicks.includes(v) ? String(v) : ''
          }
        },
        y: {
          type: 'linear',
          min: yLimits[row][0], max: yLimits[row][1],
          afterBuildTicks: s => { s.ticks = rowValues.map(v => ({value: v})); },
          afterFit: s => { s.width = left ? YAXIS_W : 0; s.paddingTop = 0; s.paddingBottom = 0; },
          border: {display: false},
          grid: {drawTicks: false, lineWidth: 1, color: '#EBEBEB'},
          ticks: {
            display: left,
            autoSkip: false,
            padding: 6,
            color: '#4D4D4D',
            font: {size: 24.5, family: FONT},
            callback: v => rowLabels[11 - v]
          }
        }
      }
    },
    plugins: [ridgeDeco]
  });
});
</script>
</body>
</html>
